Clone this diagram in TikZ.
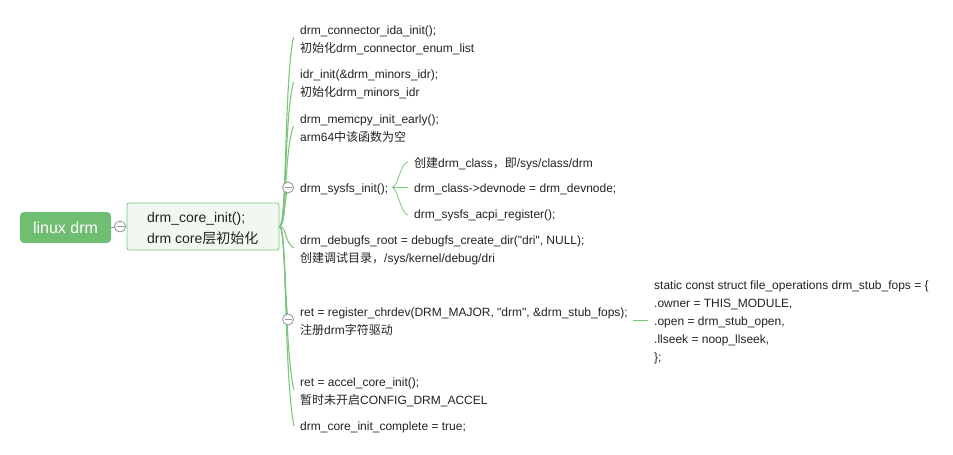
\documentclass[tikz,border=0pt]{standalone}
\usepackage{fontspec}
\setmainfont{Liberation Sans}[Ligatures=TeXOff]
\newfontfamily\cjk{Noto Sans CJK SC}
\newcommand{\zh}[1]{{\cjk #1}}
\newcommand{\dq}{\symbol{34}}
\definecolor{lgreen}{HTML}{7CC67E}
\definecolor{rootfill}{HTML}{70BE72}
\definecolor{corefill}{HTML}{F1F8F1}
\definecolor{txt}{HTML}{222222}
\definecolor{knob}{HTML}{9A9A9A}
\begin{document}
\begin{tikzpicture}[x=1pt,y=-1pt,
  leaf/.style={anchor=west,inner sep=0pt,align=left,text=txt,font=\fontsize{12}{18}\selectfont},
  link/.style={draw=lgreen,line width=1.1pt},
  thin/.style={draw=lgreen,line width=0.8pt},
  knobc/.style={circle,draw=knob,fill=white,line width=0.9pt,minimum size=11pt,inner sep=0pt},
]
\useasboundingbox (0,0) rectangle (953,455);
% root
\node[fill=rootfill,rounded corners=4pt,minimum width=91pt,minimum height=31pt,inner sep=0pt,text=white,font=\fontsize{16}{18}\selectfont] (root) at (65.5,227.5) {linux drm};
\node[draw=lgreen,fill=corefill,rounded corners=2pt,minimum width=152pt,minimum height=47pt,line width=0.8pt] (core) at (203,226.5) {};
\node[anchor=west,inner sep=0pt,align=left,text=txt,font=\fontsize{14}{21}\selectfont] (coretxt) at (147,228.5) {drm\_core\_init();\\drm core\zh{层初始化}};
\draw[draw=knob,line width=0.9pt] (root.east) -- (core.west);
\node[knobc] (k0) at (120,226.5) {};
\draw[knob,line width=0.9pt] (116.5,226.5) -- (123.5,226.5);

% leaves
\node[leaf] (a1) at (300,40.5) {drm\_connector\_ida\_init();\\\zh{初始化}drm\_connector\_enum\_list};
\node[leaf] (a2) at (300,84.5) {idr\_init(\&drm\_minors\_idr);\\\zh{初始化}drm\_minors\_idr};
\node[leaf] (a3) at (300,128.5) {drm\_memcpy\_init\_early();\\arm64\zh{中该函数为空}};
\node[leaf] (a4) at (300,189) {drm\_sysfs\_init();};
\node[leaf] (a5) at (300,250.5) {drm\_debugfs\_root = debugfs\_create\_dir(\dq dri\dq, NULL);\\\zh{创建调试目录，}/sys/kernel/debug/dri};
\node[leaf] (a6) at (300,321.5) {ret = register\_chrdev(DRM\_MAJOR, \dq drm\dq, \&drm\_stub\_fops);\\\zh{注册}drm\zh{字符驱动}};
\node[leaf] (a7) at (300,392.5) {ret = accel\_core\_init();\\\zh{暂时未开启}CONFIG\_DRM\_ACCEL};
\node[leaf] (a8) at (300,427.5) {drm\_core\_init\_complete = true;};

% sysfs children
\node[leaf] (b1) at (414,163.5) {\zh{创建}drm\_class\zh{，即}/sys/class/drm};
\node[leaf] (b2) at (414,189.5) {drm\_class->devnode = drm\_devnode;};
\node[leaf] (b3) at (414,215.5) {drm\_sysfs\_acpi\_register();};

% fops
\node[leaf] (c1) at (654,322.5) {static const struct file\_operations drm\_stub\_fops = \{\\.owner = THIS\_MODULE,\\.open = drm\_stub\_open,\\.llseek = noop\_llseek,\\\};};

% main links
\coordinate (cs) at (core.east);
\coordinate (e1) at (293.5,37);
\coordinate (e2) at (293.5,82);
\coordinate (e3) at (293.5,126);
\coordinate (e5) at (294,248);
\coordinate (e7) at (294,390);
\coordinate (e8) at (294,426);
\coordinate (e4) at (288,187.5);
\coordinate (e6) at (288,319.5);
\foreach \e/\yy in {e1/37,e2/82,e3/126,e5/248,e7/390,e8/426}{
  \draw[link] (cs) .. controls (287,226.5) and (284,{\yy+0.25*(226.5-\yy)}) .. (\e);
}
\draw[link] (cs) .. controls (285,226.5) and (284,200) .. (e4);
\draw[link] (cs) .. controls (285,226.5) and (284,290) .. (e6);
\node[knobc] (k1) at (e4) {};
\draw[knob,line width=0.9pt] (284.5,187.5) -- (291.5,187.5);
\node[knobc] (k2) at (e6) {};
\draw[knob,line width=0.9pt] (284.5,319.5) -- (291.5,319.5);

% sysfs brace
\coordinate (s0) at (392,187.5);
\draw[thin] (s0) .. controls (398,187.5) and (400,163) .. (408,162);
\draw[thin] (s0) -- (408,187.5);
\draw[thin] (s0) .. controls (398,187.5) and (400,213) .. (408,215);

% fops link
\draw[thin] (633,320) -- (648,320);
\end{tikzpicture}
\end{document}
